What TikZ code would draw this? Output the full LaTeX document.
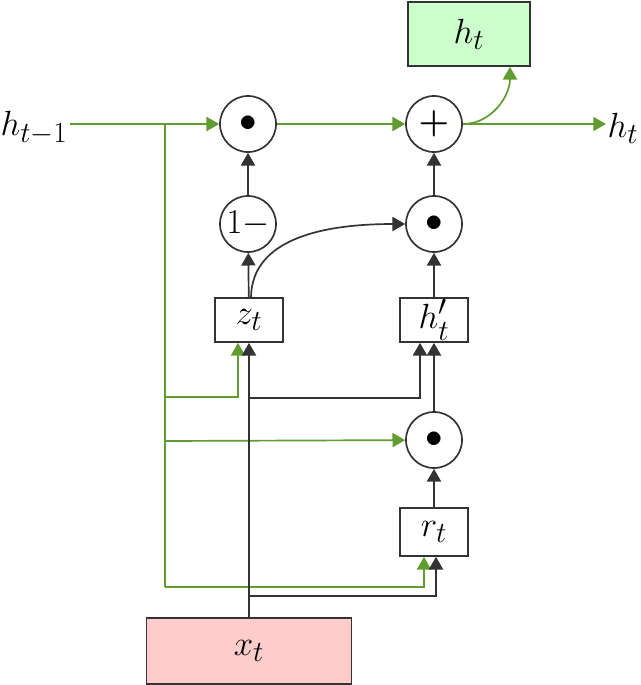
\documentclass[tikz,border=0pt]{standalone}
\usepackage{amsmath,amssymb}
\usetikzlibrary{arrows.meta,calc}
\definecolor{gatel}{RGB}{96,156,48}
\definecolor{boxg}{RGB}{204,255,204}
\definecolor{boxr}{RGB}{255,204,204}
\tikzset{
  op/.style={circle,draw=black!80,line width=1.2pt,minimum size=1.4cm,inner sep=0pt,font=\fontsize{30}{34}\selectfont},
  gate/.style={rectangle,draw=black!80,line width=1.2pt,minimum width=1.7cm,minimum height=1.1cm,inner sep=0pt,font=\fontsize{29}{34}\selectfont},
  lbl/.style={inner sep=0pt,font=\fontsize{29}{34}\selectfont},
  blk/.style={draw=black!80,line width=1.2pt,-{Triangle[length=9pt,width=10pt]}},
  grn/.style={draw=gatel,line width=1.2pt,-{Triangle[length=9pt,width=10pt]}},
}
\begin{document}
\begin{tikzpicture}[x=0.025cm,y=-0.025cm]
  \useasboundingbox (0,0) rectangle (640,685);
  \node[gate,fill=boxg,minimum width=3.05cm,minimum height=1.6cm] (ht) at (469,34) {\(h_t\)};
  \node[op] (mul1) at (248,124) {\(\bullet\)};
  \node[op] (add) at (434,124) {\(\boldsymbol{+}\)};
  \node[op] (one) at (248,224) {\(1-\)};
  \node[op] (mul2) at (434,224) {\(\bullet\)};
  \node[gate] (z) at (249,320) {\(z_t\)};
  \node[gate] (hp) at (434,320) {\(h'_t\)};
  \node[op] (mul3) at (434,440) {\(\bullet\)};
  \node[gate,minimum height=1.2cm] (r) at (434,532) {\(r_t\)};
  \node[gate,fill=boxr,minimum width=5.125cm,minimum height=1.65cm] (x) at (249,651) {\(x_t\)};
  \node[lbl] (hprev) at (34,128) {\(h_{t-1}\)};
  \node[lbl] (hout) at (623,128) {\(h_t\)};
  \coordinate (hin) at (70,124);
  \coordinate (sp) at (165,124);
  \coordinate (hend) at (606,124);
  % previous state
  \draw[grn] (hin) -- (mul1);
  \draw[grn] (mul1) -- (add);
  \draw[grn] (add) -- (hend);
  \draw[grn] (add.east) to[out=0,in=-90] (ht.south -| 510,0);
  \draw[gatel,line width=1.2pt] (sp) -- (165,587);
  \draw[grn] (165,397) -| ($(z.south)+(-11,0)$);
  \draw[grn] (165,441) -- (mul3);
  \draw[grn] (165,587) -| ($(r.south)+(-10,0)$);
  % input
  \draw[blk] (x) -- (z);
  \draw[blk] (249,398) -| ($(hp.south)+(-14,0)$);
  \draw[blk] (249,596) -| ($(r.south)+(2,0)$);
  % gates
  \draw[blk] (z) -- (one);
  \draw[blk] (one) -- (mul1);
  \draw[blk] ($(z.north)+(2,0)$) .. controls (252,240) and (320,224) .. (mul2);
  \draw[blk] (mul2) -- (add);
  \draw[blk] (hp) -- (mul2);
  \draw[blk] (mul3) -- (hp);
  \draw[blk] (r) -- (mul3);
\end{tikzpicture}
\end{document}
